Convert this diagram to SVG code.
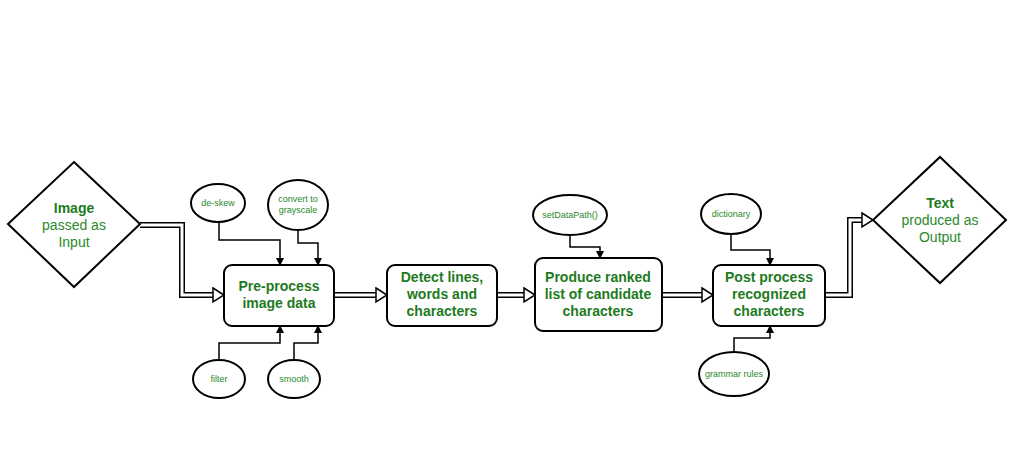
<svg xmlns="http://www.w3.org/2000/svg" width="1024" height="455" viewBox="0 0 1024 455">
<style>
.s{fill:#fff;stroke:#000;stroke-width:2}
.t{font-family:"Liberation Sans",Arial,sans-serif;fill:#2a8a2a;text-anchor:middle}
.b{font-weight:bold;fill:#1e7a1e;font-size:14px}
.m{font-size:14px}
.sm{font-size:9px}
.c{fill:none;stroke:#000;stroke-width:1.5}
.dbo{fill:none;stroke:#000;stroke-width:6}
.dbi{fill:none;stroke:#fff;stroke-width:3}
.ah{fill:#fff;stroke:#000;stroke-width:1.5}
</style>
<defs><marker id="a" markerWidth="8" markerHeight="8" refX="7" refY="4" orient="auto" markerUnits="userSpaceOnUse"><path d="M0,0 L8,4 L0,8 Z" fill="#000"/></marker></defs>
<rect width="1024" height="455" fill="#fff"/>
<g id="connectors">
<path class="dbo" d="M140,225 H182 V295 H214"/><path class="dbi" d="M138,225 H182 V295 H216"/><path class="ah" d="M213,288 L224,295 L213,302 Z"/>
<path class="dbo" d="M334,295 H377"/><path class="dbi" d="M334,295 H379"/><path class="ah" d="M376,288 L387,295 L376,302 Z"/>
<path class="dbo" d="M497,295 H525"/><path class="dbi" d="M497,295 H527"/><path class="ah" d="M524,288 L535,295 L524,302 Z"/>
<path class="dbo" d="M662,295 H703"/><path class="dbi" d="M662,295 H705"/><path class="ah" d="M702,288 L713,295 L702,302 Z"/>
<path class="dbo" d="M825,295 H850 V220 H863"/><path class="dbi" d="M825,295 H850 V220 H865"/><path class="ah" d="M862,213 L873,220 L862,227 Z"/>
<path class="c" marker-end="url(#a)" d="M219,222 V240 H280 V265"/>
<path class="c" marker-end="url(#a)" d="M298,230 V243 H318 V265"/>
<path class="c" marker-end="url(#a)" d="M219,360 V343 H280 V326"/>
<path class="c" marker-end="url(#a)" d="M294,360 V343 H318 V326"/>
<path class="c" marker-end="url(#a)" d="M570,235 V247 H600 V258"/>
<path class="c" marker-end="url(#a)" d="M731,234 V250 H770 V265"/>
<path class="c" marker-end="url(#a)" d="M734,352 V338 H770 V326"/>
</g>
<g id="input"><path class="s" d="M74,162 L140,224 L74,287 L8,224 Z"/><text class="t b" x="74" y="213">Image</text><text class="t m" x="74" y="230">passed as</text><text class="t m" x="74" y="247">Input</text></g>
<g id="preprocess"><rect class="s" x="224" y="265" width="110" height="61" rx="8"/><text class="t b" x="279" y="291">Pre-process</text><text class="t b" x="279" y="308">image data</text></g>
<g id="detect"><rect class="s" x="387" y="265" width="110" height="61" rx="8"/><text class="t b" x="442" y="282">Detect lines,</text><text class="t b" x="442" y="299">words and</text><text class="t b" x="442" y="316">characters</text></g>
<g id="produce"><rect class="s" x="535" y="258" width="127" height="73" rx="8"/><text class="t b" x="598" y="282">Produce ranked</text><text class="t b" x="598" y="299">list of candidate</text><text class="t b" x="598" y="316">characters</text></g>
<g id="post"><rect class="s" x="713" y="265" width="112" height="61" rx="8"/><text class="t b" x="769" y="282">Post process</text><text class="t b" x="769" y="299">recognized</text><text class="t b" x="769" y="316">characters</text></g>
<g id="output"><path class="s" d="M940,157 L1006,220 L940,283 L873,220 Z"/><text class="t b" x="940" y="208">Text</text><text class="t m" x="940" y="225">produced as</text><text class="t m" x="940" y="242">Output</text></g>
<g id="deskew"><ellipse class="s" cx="218" cy="203" rx="27" ry="19"/><text class="t sm" x="218" y="206">de-skew</text></g>
<g id="gray"><ellipse class="s" cx="298" cy="205" rx="30" ry="25"/><text class="t sm" x="298" y="202">convert to</text><text class="t sm" x="298" y="213">grayscale</text></g>
<g id="filter"><ellipse class="s" cx="219" cy="379" rx="26" ry="19"/><text class="t sm" x="219" y="382">filter</text></g>
<g id="smooth"><ellipse class="s" cx="294" cy="379" rx="26" ry="19"/><text class="t sm" x="294" y="382">smooth</text></g>
<g id="setdata"><ellipse class="s" cx="570" cy="215" rx="37" ry="20"/><text class="t sm" x="570" y="218">setDataPath()</text></g>
<g id="dictionary"><ellipse class="s" cx="731" cy="214" rx="30" ry="20"/><text class="t sm" x="731" y="217">dictionary</text></g>
<g id="grammar"><ellipse class="s" cx="734" cy="374" rx="35" ry="22"/><text class="t sm" x="734" y="377">grammar rules</text></g>
</svg>
